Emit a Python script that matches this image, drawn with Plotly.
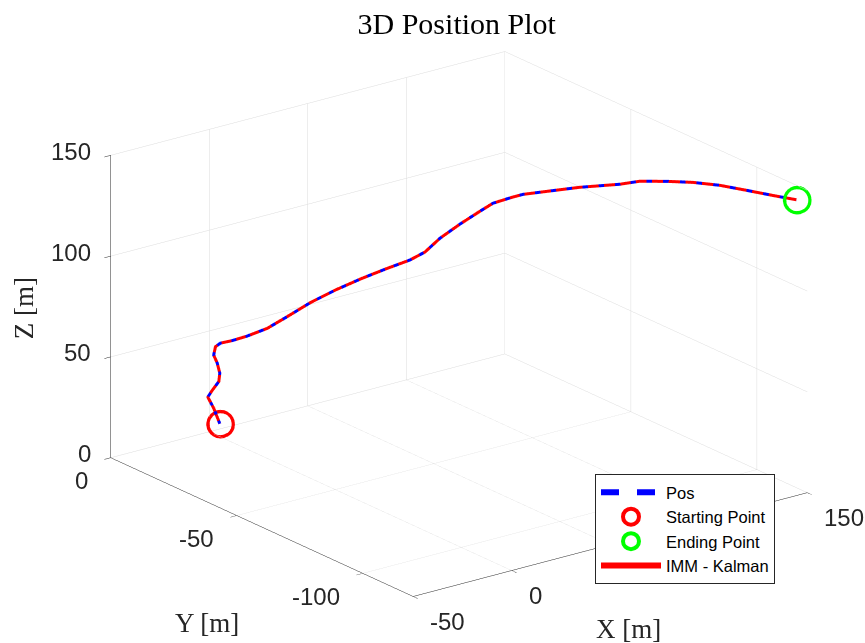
import plotly.graph_objects as go

# Trajectory samples (metres)
traj_x = [2.8, -0.3, -3.3, -1.1, 2.3, 2.8, 1.5, -0.3, 0.6, 3.1, 6.0, 9.8, 14.8, 19.8,
          25.7, 32.0, 38.3, 44.6, 50.8, 54.6, 58.4, 63.4, 68.5, 71.7, 76.5, 79.3, 85.3,
          93.6, 103.7, 108.7, 115.5, 122.0, 128.8, 135.6, 142.1, 148.2]
traj_y = [-2.0, -2.0, -2.0, -2.0, -2.0, -2.0, -2.0, -2.0, -2.0, -2.0, -4.4, -7.4, -11.4,
          -15.4, -20.0, -25.0, -30.0, -35.0, -39.9, -42.9, -45.9, -49.9, -53.9, -56.5,
          -60.3, -62.5, -67.3, -73.8, -81.8, -85.8, -91.2, -96.4, -101.8, -107.1, -112.3,
          -117.1]
traj_z = [4.4, 12.9, 19.2, 21.9, 25.5, 29.5, 34.8, 39.3, 43.2, 44.3, 46.2, 49.2, 54.0,
          60.8, 68.9, 76.4, 83.1, 89.3, 95.0, 99.7, 107.3, 115.3, 122.7, 127.3, 131.2,
          133.2, 135.9, 139.5, 143.0, 145.5, 146.8, 147.6, 147.5, 146.3, 145.1, 144.1]

x_ticks = [-50, 0, 50, 100, 150]
y_ticks = [-100, -50, 0]
z_ticks = [0, 50, 100, 150]
x_range = [-50, 150]
y_range = [-120, 0]
z_range = [0, 150]
# x tick labels that sit underneath the legend box are not printed
x_hidden_labels = [50, 100]

fig = go.Figure()

fig.add_trace(go.Scatter3d(
    x=traj_x, y=traj_y, z=traj_z, mode="lines", name="IMM - Kalman",
    line=dict(color="#FF0000", width=6), legendrank=4))
fig.add_trace(go.Scatter3d(
    x=traj_x, y=traj_y, z=traj_z, mode="lines", name="Pos",
    line=dict(color="#0000FF", width=6, dash="dash"), legendrank=1))
fig.add_trace(go.Scatter3d(
    x=[traj_x[0]], y=[traj_y[0]], z=[traj_z[0]], mode="markers", name="Starting Point",
    marker=dict(symbol="circle-open", size=16, color="#FF0000",
                line=dict(color="#FF0000", width=4)), legendrank=2))
fig.add_trace(go.Scatter3d(
    x=[traj_x[-1]], y=[traj_y[-1]], z=[traj_z[-1]], mode="markers", name="Ending Point",
    marker=dict(symbol="circle-open", size=16, color="#00FF00",
                line=dict(color="#00FF00", width=4)), legendrank=3))

tick_font = dict(family="Liberation Sans, Arial, sans-serif", size=24, color="#262626")
label_font = dict(family="Liberation Serif, serif", size=27, color="#262626")


def axis(rng, ticks):
    return dict(
        title=dict(text=""),
        range=rng, tickvals=ticks, showticklabels=False,
        showgrid=True, gridcolor="#dcdcdc", gridwidth=1,
        showline=True, linecolor="#262626", linewidth=1,
        ticks="outside", ticklen=8, tickcolor="#262626",
        zeroline=False, showbackground=False, showspikes=False,
        autorange=False,
    )


# Screen-aligned tick labels and axis titles anchored in data space
notes = []
for v in z_ticks:
    notes.append(dict(x=x_range[0], y=y_range[1], z=v, text=str(v), xanchor="right",
                      yanchor="middle", xshift=-18, yshift=4))
for v in y_ticks:
    notes.append(dict(x=x_range[0], y=v, z=z_range[0], text=str(v), xanchor="right",
                      yanchor="middle", xshift=-21, yshift=-23))
for v in x_ticks:
    if v in x_hidden_labels:
        continue
    notes.append(dict(x=v, y=y_range[0], z=z_range[0], text=str(v), xanchor="left",
                      yanchor="middle", xshift=15, yshift=-25))
for n in notes:
    n.update(showarrow=False, font=tick_font)

titles = [
    dict(x=50, y=y_range[0], z=z_range[0], text="X [m]", xshift=18, yshift=-84),
    dict(x=x_range[0], y=-60, z=z_range[0], text="Y [m]", xshift=-55, yshift=-96),
    dict(x=x_range[0], y=y_range[1], z=75, text="Z [m]", xshift=-87, yshift=-2,
         textangle=-90),
]
for t in titles:
    t.update(showarrow=False, font=label_font, xanchor="center", yanchor="middle")

fig.update_layout(
    width=865, height=643,
    margin=dict(l=0, r=0, t=0, b=0),
    paper_bgcolor="white",
    title=dict(text="3D Position Plot", x=0.528, xanchor="center", y=0.963,
               yanchor="middle",
               font=dict(family="Liberation Serif, serif", size=30, color="black")),
    scene=dict(
        domain=dict(x=[0.0613, 1.0], y=[0.0, 0.992]),
        xaxis=axis(x_range, x_ticks),
        yaxis=axis(y_range, y_ticks),
        zaxis=axis(z_range, z_ticks),
        aspectmode="manual",
        aspectratio=dict(x=1.55, y=1.570, z=1.011),
        camera=dict(
            projection=dict(type="orthographic"),
            up=dict(x=0, y=0, z=1),
            center=dict(x=0, y=0, z=0),
            eye=dict(x=-1.116, y=-1.473, z=0.685),
        ),
        annotations=notes + titles,
        bgcolor="white",
    ),
    legend=dict(
        x=595 / 865, y=1 - 474 / 643, xanchor="left", yanchor="top",
        bgcolor="white", bordercolor="#262626", borderwidth=1,
        font=dict(family="Liberation Sans, Arial, sans-serif", size=16.5, color="black"),
        itemwidth=60,
    ),
    showlegend=True,
    hovermode=False,
)

fig.write_html("out.html")
